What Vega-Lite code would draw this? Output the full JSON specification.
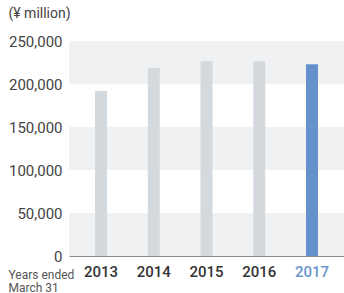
{
  "$schema": "https://vega.github.io/schema/vega-lite/v6.json",
  "width": 275,
  "height": 215,
  "autosize": "none",
  "padding": {"left": 69, "top": 41, "right": 0, "bottom": 37},
  "background": "white",
  "config": {"view": {"stroke": null}, "font": "Roboto"},
  "datasets": {
    "bars": [
      {"year": "2013", "value": 192000},
      {"year": "2014", "value": 218500},
      {"year": "2015", "value": 226500},
      {"year": "2016", "value": 226500},
      {"year": "2017", "value": 223000}
    ],
    "bands": [
      {"lo": 0, "hi": 50000},
      {"lo": 100000, "hi": 150000},
      {"lo": 200000, "hi": 250000}
    ]
  },
  "layer": [
    {
      "data": {"name": "bands"},
      "mark": {"type": "rect", "color": "#f0f1f3"},
      "encoding": {
        "y": {
          "field": "lo", "type": "quantitative", "scale": {"domain": [0, 250000]},
          "axis": {
            "values": [0, 50000, 100000, 150000, 200000, 250000],
            "format": ",.0f", "grid": false, "domain": false, "ticks": false,
            "labelFontSize": 15, "labelColor": "#444", "labelPadding": 7,
            "title": "(¥ million)", "titleFontSize": 14, "titleFontWeight": "normal", "titleColor": "#444",
            "titleAngle": 0, "titleAlign": "left", "titleBaseline": "alphabetic",
            "titleX": -61, "titleY": -24
          }
        },
        "y2": {"field": "hi"}
      }
    },
    {
      "data": {"name": "bars"},
      "mark": {"type": "bar", "width": 12},
      "encoding": {
        "x": {
          "field": "year", "type": "nominal", "sort": null,
          "scale": {"paddingInner": 0, "paddingOuter": 0.107},
          "axis": {
            "title": ["Years ended", "March 31"],
            "titleFontSize": 12, "titleFontWeight": "normal", "titleColor": "#555",
            "titleAngle": 0, "titleAlign": "left", "titleBaseline": "alphabetic",
            "titleX": -61, "titleY": 22, "titleLineHeight": 13,
            "labelAngle": 0, "labelFontSize": 15, "labelFontWeight": 500,
            "labelColor": {"condition": {"test": "datum.value == '2017'", "value": "#6a96cc"}, "value": "#333"},
            "labelPadding": 8, "ticks": false, "domain": true, "domainColor": "#888", "domainWidth": 1
          }
        },
        "y": {
          "field": "value", "type": "quantitative",
          "scale": {"domain": [0, 250000]},
          "axis": {
            "values": [0, 50000, 100000, 150000, 200000, 250000],
            "format": ",.0f", "grid": false, "domain": false, "ticks": false,
            "labelFontSize": 15, "labelColor": "#444", "labelPadding": 7,
            "title": "(¥ million)", "titleFontSize": 14, "titleFontWeight": "normal", "titleColor": "#444",
            "titleAngle": 0, "titleAlign": "left", "titleBaseline": "alphabetic",
            "titleX": -61, "titleY": -24
          }
        },
        "color": {
          "condition": {"test": "datum.year == '2017'", "value": "#6592cc"},
          "value": "#d4d9de"
        }
      }
    }
  ]
}
